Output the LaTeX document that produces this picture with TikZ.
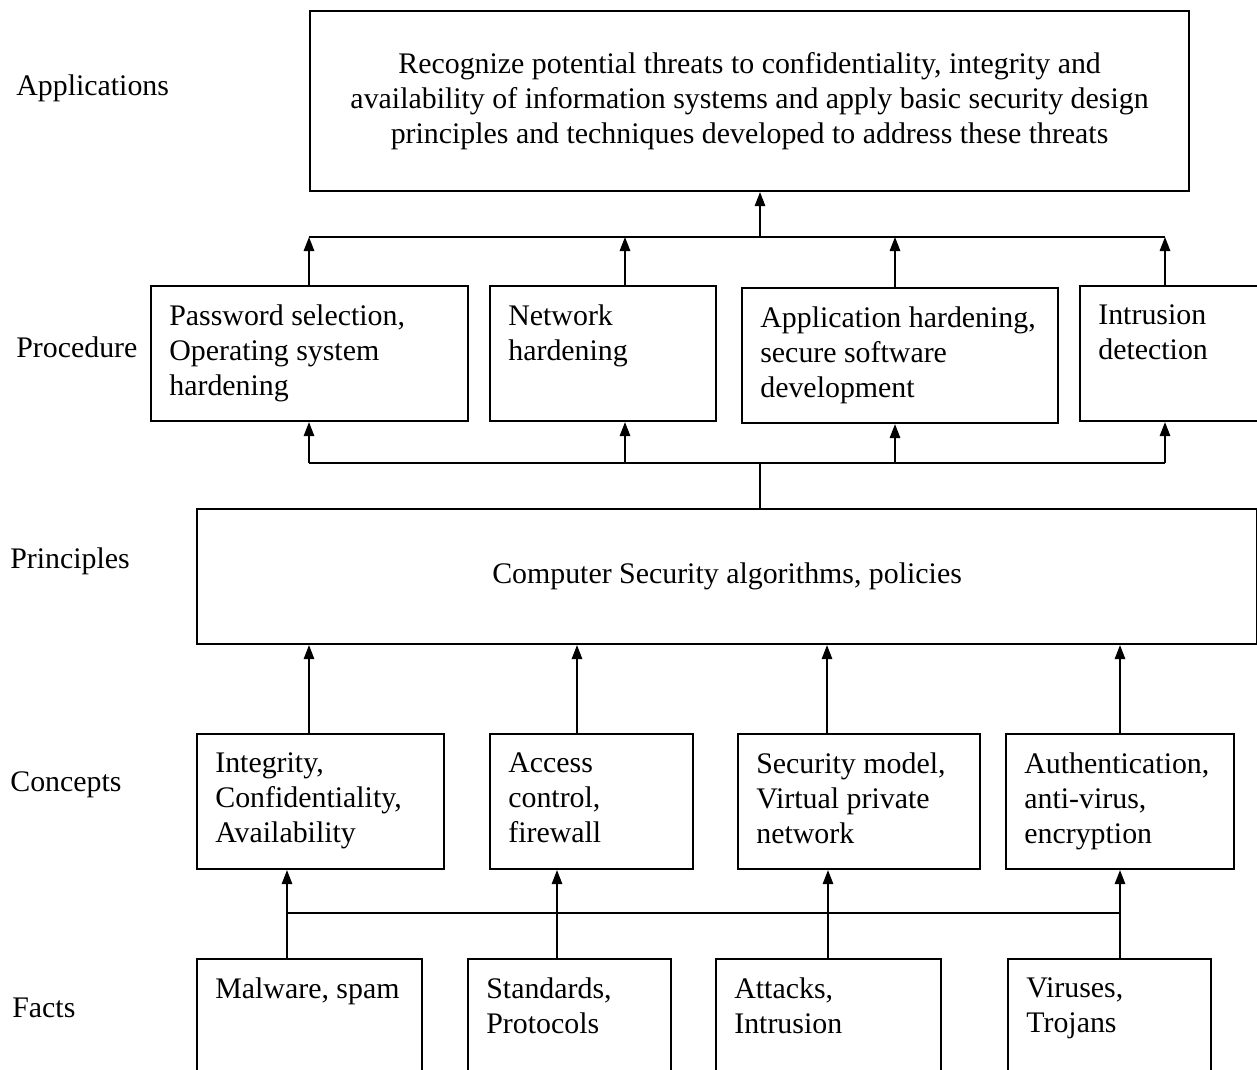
\documentclass[tikz,border=0pt]{standalone}
\usepackage{fontspec}
\setmainfont{Liberation Serif}
\usepackage{tikz}
\usetikzlibrary{positioning}
\usetikzlibrary{arrows.meta}
\tikzset{blk/.style={draw, line width=1.2pt, rectangle, anchor=north west, inner sep=0pt}}
\tikzset{txt/.style={anchor=north west, align=left, inner sep=0pt, xshift=0.38cm, yshift=-0.39cm}}
\tikzset{lvl/.style={anchor=west, inner sep=0pt}}
\tikzset{up/.style={-{Triangle[length=0.28cm,width=0.21cm]}, line width=0.85pt}}
\tikzset{bus/.style={line width=0.85pt}}

\begin{document}
\begin{tikzpicture}[font=\fontsize{17}{19.9}\selectfont]
\useasboundingbox (0,0) rectangle (25.14,-21.38);
% level names
\node[lvl] (lapp) at (0.32,-1.76) {Applications};
\node[lvl] (lproc) at (0.32,-6.94) {Procedure};
\node[lvl] (lprin) at (0.2,-11.22) {Principles};
\node[lvl] (lcon) at (0.2,-15.7) {Concepts};
\node[lvl] (lfact) at (0.24,-20.16) {Facts};
% applications
\node[blk, minimum width=17.58cm, minimum height=3.6cm] (app) at (6.18,-0.2) {};
\node[align=center] at (app.center) {Recognize potential threats to confidentiality, integrity and\\availability of information systems and apply basic security design\\principles and techniques developed to address these threats};
% procedure
\node[blk, minimum width=6.34cm, minimum height=2.7cm] (p1) at (3.0,-5.7) {};
\node[blk, minimum width=4.52cm, minimum height=2.7cm] (p2) at (9.78,-5.7) {};
\node[blk, minimum width=6.32cm, minimum height=2.7cm] (p3) at (14.82,-5.74) {};
\node[blk, minimum width=4.2cm, minimum height=2.7cm] (p4) at (21.58,-5.7) {};
\node[txt] at (p1.north west) {Password selection,\\Operating system\\hardening};
\node[txt] at (p2.north west) {Network\\hardening};
\node[txt] at (p3.north west) {Application hardening,\\secure software\\development};
\node[txt] at (p4.north west) {Intrusion\\detection};
% principles
\node[blk, minimum width=21.2cm, minimum height=2.7cm] (pr) at (3.92,-10.16) {};
\node at (pr.center) {Computer Security algorithms, policies};
% concepts
\node[blk, minimum width=4.94cm, minimum height=2.7cm] (c1) at (3.92,-14.66) {};
\node[blk, minimum width=4.06cm, minimum height=2.7cm] (c2) at (9.78,-14.66) {};
\node[blk, minimum width=4.84cm, minimum height=2.7cm] (c3) at (14.74,-14.66) {};
\node[blk, minimum width=4.56cm, minimum height=2.7cm] (c4) at (20.1,-14.66) {};
\node[txt] at (c1.north west) {Integrity,\\Confidentiality,\\Availability};
\node[txt] at (c2.north west) {Access\\control,\\firewall};
\node[txt] at (c3.north west) {Security model,\\Virtual private\\network};
\node[txt] at (c4.north west) {Authentication,\\anti-virus,\\encryption};
% facts (cut off at the bottom)
\node[blk, minimum width=4.5cm, minimum height=3cm] (f1) at (3.92,-19.16) {};
\node[blk, minimum width=4.06cm, minimum height=3cm] (f2) at (9.34,-19.16) {};
\node[blk, minimum width=4.5cm, minimum height=3cm] (f3) at (14.3,-19.16) {};
\node[blk, minimum width=4.06cm, minimum height=3cm] (f4) at (20.14,-19.16) {};
\node[txt] at (f1.north west) {Malware, spam};
\node[txt] at (f2.north west) {Standards,\\Protocols};
\node[txt] at (f3.north west) {Attacks,\\Intrusion};
\node[txt] at (f4.north west) {Viruses,\\Trojans};
% procedure -> applications
\coordinate (tbus) at (15.2,-4.74);
\draw[up] (tbus) -- (tbus |- app.south);
\draw[bus] (6.18,-4.74) -- (23.3,-4.74);
\foreach \n/\x in {p1/6.18, p2/12.5, p3/17.9, p4/23.3}
  \draw[up] (\n.north -| \x,0) -- (\x,-4.74);
% principles -> procedure
\coordinate (mbus) at (15.2,-9.26);
\draw[bus] (pr.north -| mbus) -- (mbus);
\draw[bus] (6.18,-9.26) -- (23.3,-9.26);
\foreach \n/\x in {p1/6.18, p2/12.5, p3/17.9, p4/23.3}
  \draw[up] (\x,-9.26) -- (\n.south -| \x,0);
% concepts -> principles
\foreach \n/\x in {c1/6.18, c2/11.54, c3/16.54, c4/22.4}
  \draw[up] (\n.north -| \x,0) -- (pr.south -| \x,0);
% facts -> concepts
\draw[bus] (5.74,-18.26) -- (22.4,-18.26);
\foreach \n/\m/\x in {f1/c1/5.74, f2/c2/11.14, f3/c3/16.56, f4/c4/22.4}
  \draw[up] (\n.north -| \x,0) -- (\m.south -| \x,0);
\end{tikzpicture}
\end{document}
